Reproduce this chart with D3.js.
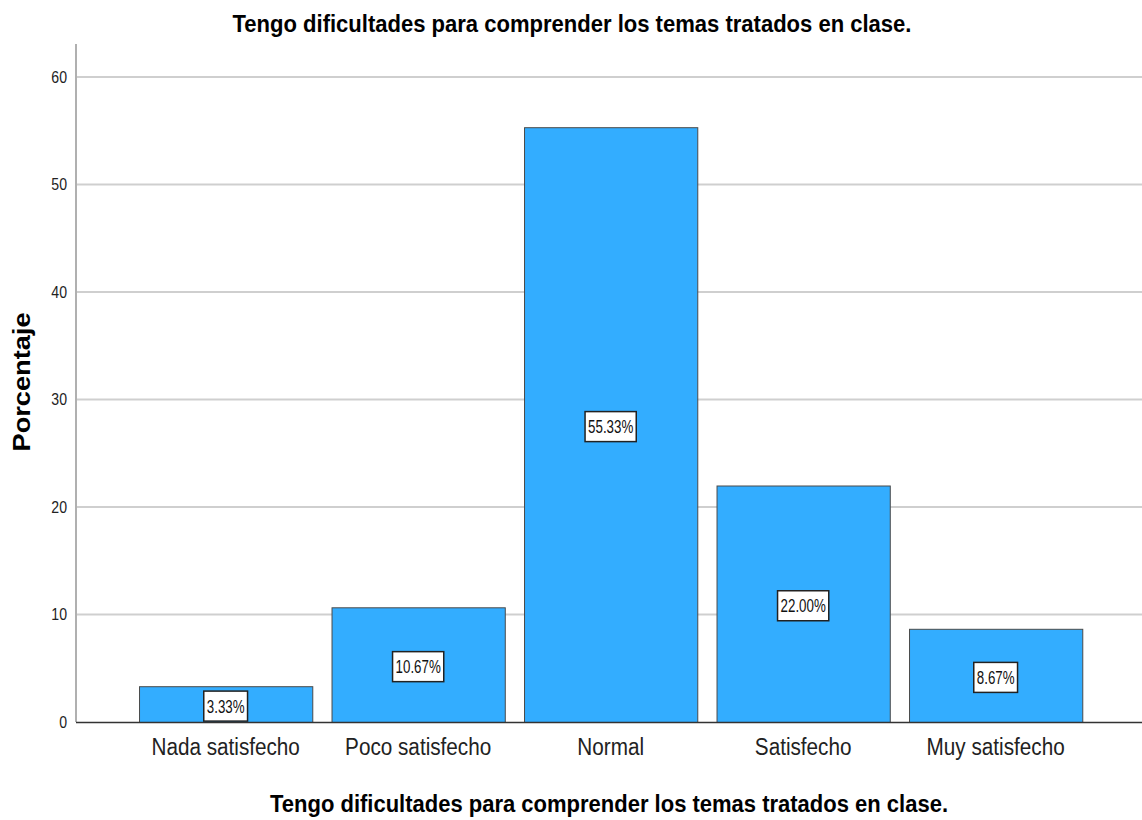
<!DOCTYPE html>
<html>
<head>
<meta charset="utf-8">
<script src="https://cdn.jsdelivr.net/npm/d3@7"></script>
<style>
  html, body { margin: 0; padding: 0; background: #fff; }
  svg { display: block; font-family: "Liberation Sans", Arial, sans-serif; }
</style>
</head>
<body>
<svg id="chart" width="1142" height="820"></svg>
<script>
// Response categories and their percentages
const categories = ["Nada satisfecho", "Poco satisfecho", "Normal", "Satisfecho", "Muy satisfecho"];
const percentages = [3.33, 10.67, 55.33, 22.00, 8.67];
const yTicks = [0, 10, 20, 30, 40, 50, 60];
const chartTitle = "Tengo dificultades para comprender los temas tratados en clase.";
const xTitle = "Tengo dificultades para comprender los temas tratados en clase.";
const yTitle = "Porcentaje";

const svg = d3.select("#chart");
const plot = { left: 76, right: 1142, top: 44, bottom: 722 };

const y = d3.scaleLinear().domain([0, 60]).range([722, 77]);
const x = d3.scaleBand()
  .domain(categories)
  .range([129.4, 1091.9])
  .paddingInner(0.1)
  .paddingOuter(0.05);

// squeeze a text element horizontally by a factor
function condense(sel, k) {
  sel.each(function () {
    const w = this.getComputedTextLength();
    d3.select(this).attr("textLength", w * k).attr("lengthAdjust", "spacingAndGlyphs");
  });
}

// Horizontal gridlines
svg.append("g")
  .selectAll("line")
  .data(yTicks.filter(t => t > 0))
  .join("line")
  .attr("x1", plot.left).attr("x2", plot.right)
  .attr("y1", d => y(d)).attr("y2", d => y(d))
  .attr("stroke", "#cfcfcf").attr("stroke-width", 2);

// Left axis
const yAxis = d3.axisLeft(y).tickValues(yTicks).tickSize(0).tickPadding(9);
const gy = svg.append("g").attr("transform", `translate(${plot.left},0)`).call(yAxis);
gy.select(".domain").remove();
gy.selectAll("text").attr("font-size", 16).attr("fill", "#222")
  .attr("font-family", "'Liberation Sans', Arial, sans-serif")
  .call(condense, 0.88);
svg.append("line")
  .attr("x1", plot.left).attr("x2", plot.left)
  .attr("y1", plot.top).attr("y2", plot.bottom)
  .attr("stroke", "#b0b0b0").attr("stroke-width", 2);

// Bars
svg.append("g")
  .selectAll("rect")
  .data(percentages)
  .join("rect")
  .attr("x", (d, i) => x(categories[i]) + 0.5)
  .attr("y", d => y(d) + 0.5)
  .attr("width", x.bandwidth())
  .attr("height", d => y(0) - y(d))
  .attr("fill", "#33adff")
  .attr("stroke", "#4a4a4a").attr("stroke-width", 1);

// Bottom axis line
svg.append("line")
  .attr("x1", plot.left).attr("x2", plot.right)
  .attr("y1", plot.bottom + 0.5).attr("y2", plot.bottom + 0.5)
  .attr("stroke", "#333").attr("stroke-width", 1.5);

// Category labels
const xAxis = d3.axisBottom(x).tickSize(0).tickPadding(17);
const gx = svg.append("g").attr("transform", `translate(0,${plot.bottom})`).call(xAxis);
gx.select(".domain").remove();
gx.selectAll("text")
  .attr("font-size", 23).attr("fill", "#222")
  .attr("font-family", "'Liberation Sans', Arial, sans-serif")
  .call(condense, 0.9);

// Value labels in boxes at bar mid-height
const lbl = svg.append("g").selectAll("g")
  .data(percentages)
  .join("g")
  .attr("transform", (d, i) =>
    `translate(${x(categories[i]) + x.bandwidth() / 2},${(y(d) + y(0)) / 2 + 2})`);
lbl.each(function (d) {
  const g = d3.select(this);
  const txt = d.toFixed(2) + "%";
  const rect = g.append("rect");
  const t = g.append("text")
    .attr("text-anchor", "middle")
    .attr("dy", "0.36em")
    .attr("font-size", 18)
    .attr("fill", "#111")
    .text(txt);
  const w = t.node().getComputedTextLength() * 0.74;
  t.attr("textLength", w).attr("lengthAdjust", "spacingAndGlyphs");
  rect.attr("x", -w / 2 - 3).attr("y", -15).attr("width", w + 6).attr("height", 30)
    .attr("fill", "#fff").attr("stroke", "#222").attr("stroke-width", 1.5);
});

// Titles
svg.append("text")
  .attr("x", 572).attr("y", 32)
  .attr("text-anchor", "middle")
  .attr("font-size", 23).attr("font-weight", "bold").attr("fill", "#000")
  .attr("textLength", 679).attr("lengthAdjust", "spacingAndGlyphs")
  .text(chartTitle);

svg.append("text")
  .attr("x", 609).attr("y", 812)
  .attr("text-anchor", "middle")
  .attr("font-size", 23).attr("font-weight", "bold").attr("fill", "#000")
  .attr("textLength", 678).attr("lengthAdjust", "spacingAndGlyphs")
  .text(xTitle);

svg.append("text")
  .attr("transform", "translate(30,382) rotate(-90)")
  .attr("text-anchor", "middle")
  .attr("font-size", 24).attr("font-weight", "bold").attr("fill", "#000")
  .attr("textLength", 139).attr("lengthAdjust", "spacingAndGlyphs")
  .text(yTitle);
</script>
</body>
</html>
